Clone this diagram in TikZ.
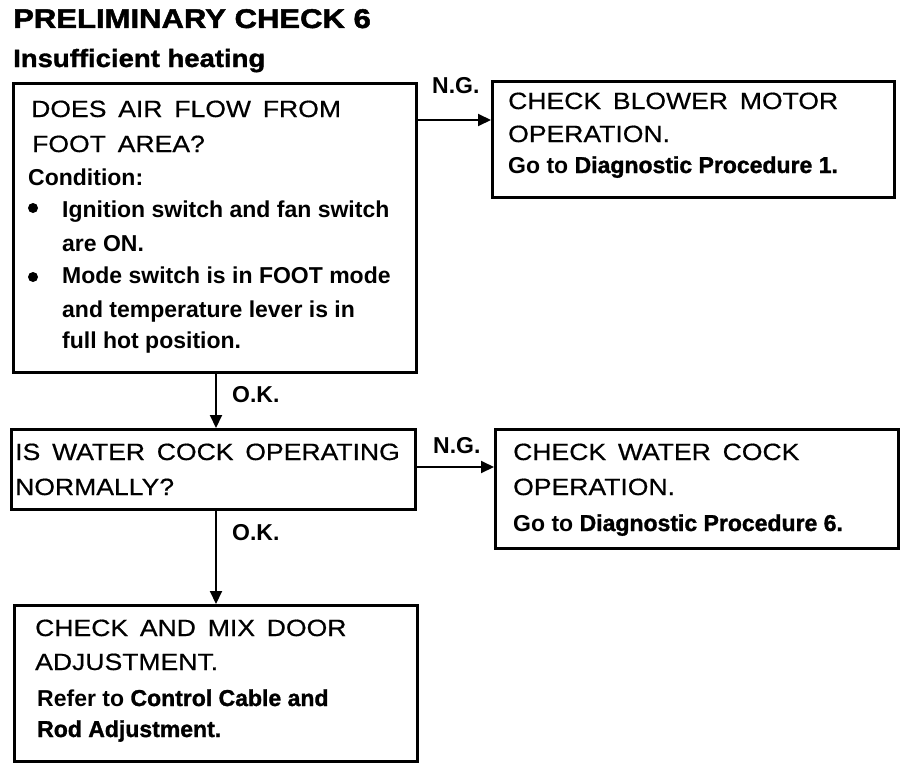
\documentclass[tikz,border=0pt]{standalone}
\usepackage{fontspec}
\setmainfont{Liberation Sans}
\newfontfamily\qfont[FakeStretch=1.13,FakeBold=0.6,WordSpace=1.6]{Liberation Sans}
\newfontfamily\heavyfont[FakeBold=1.3]{Liberation Sans Bold}
\newfontfamily\titlefont[FakeBold=1.8,FakeStretch=1.15]{Liberation Sans Bold}
\newfontfamily\subfont[FakeBold=1.3,FakeStretch=1.1]{Liberation Sans Bold}
\usetikzlibrary{arrows.meta,calc}
\tikzset{
  box/.style={draw, line width=2.6pt, inner sep=0pt, anchor=north west},
  conn/.style={line width=2pt, -{Triangle[length=13pt,width=12pt]}},
  qtext/.style={inner sep=0pt, anchor=base west, font=\qfont\fontsize{23.5}{24}\selectfont},
  btext/.style={inner sep=0pt, anchor=base west, font=\bfseries\fontsize{23}{23}\selectfont},
  lbl/.style={inner sep=0pt, anchor=base west, font=\bfseries\fontsize{23}{23}\selectfont},
  bul/.style={circle, fill, inner sep=0pt, minimum size=10pt}
}
\begin{document}
\begin{tikzpicture}[x=1pt,y=-1pt]
\useasboundingbox (0,0) rectangle (912,768);
% title
\node[inner sep=0pt, anchor=base west, font=\titlefont\fontsize{27}{28}\selectfont] (title) at (13,28) {PRELIMINARY CHECK 6};
\node[inner sep=0pt, anchor=base west, font=\subfont\fontsize{25}{26}\selectfont] (sub) at (13,67) {Insufficient heating};
% boxes
\node[box, minimum width=403pt, minimum height=289pt] (q1) at (12,82) {};
\node[box, minimum width=402pt, minimum height=116pt] (r1) at (491,80) {};
\node[box, minimum width=404pt, minimum height=80pt] (q2) at (10,428) {};
\node[box, minimum width=403pt, minimum height=119pt] (r2) at (494,428) {};
\node[box, minimum width=403pt, minimum height=156pt] (r3) at (13,604) {};
% box 1 text
\node[qtext] (t11) at (31,117) {DOES AIR FLOW FROM};
\node[qtext] (t12) at (32,152) {FOOT AREA?};
\node[btext] (t13) at (28,185) {Condition:};
\node[bul] (b1) at (33,208) {};
\node[btext] (t14) at (62,217) {Ignition switch and fan switch};
\node[btext] (t15) at (62,251) {are ON.};
\node[bul] (b2) at (33,277) {};
\node[btext] (t16) at (62,283) {Mode switch is in FOOT mode};
\node[btext] (t17) at (62,317) {and temperature lever is in};
\node[btext] (t18) at (62,348) {full hot position.};
% box 2 text
\node[qtext] (t21) at (508,109) {CHECK BLOWER MOTOR};
\node[qtext] (t22) at (508,142) {OPERATION.};
\node[btext] (t23) at (508,173) {Go to {\heavyfont Diagnostic Procedure 1.}};
% box 3 text
\node[qtext] (t31) at (15,460) {IS WATER COCK OPERATING};
\node[qtext] (t32) at (15,495) {NORMALLY?};
% box 4 text
\node[qtext] (t41) at (513,460) {CHECK WATER COCK};
\node[qtext] (t42) at (513,495) {OPERATION.};
\node[btext] (t43) at (513,531) {Go to {\heavyfont Diagnostic Procedure 6.}};
% box 5 text
\node[qtext] (t51) at (35,636) {CHECK AND MIX DOOR};
\node[qtext] (t52) at (35,670) {ADJUSTMENT.};
\node[btext] (t53) at (37,706) {Refer to {\heavyfont Control Cable and}};
\node[btext] (t54) at (37,737) {\heavyfont Rod Adjustment.};
% connectors
\draw[conn] ($(q1.north east)+(0,38)$) -- ($(r1.north west)+(0,40)$);
\draw[conn] ($(q1.south west)+(204,0)$) -- ($(q2.north west)+(206,0)$);
\draw[conn] ($(q2.north east)+(0,39)$) -- ($(r2.north west)+(0,39)$);
\draw[conn] ($(q2.south west)+(206,0)$) -- ($(r3.north west)+(203,0)$);
% labels
\node[lbl] (ng1) at (432,93) {N.G.};
\node[lbl] (ng2) at (433,453) {N.G.};
\node[lbl] (ok1) at (232,402) {O.K.};
\node[lbl] (ok2) at (232,540) {O.K.};
\end{tikzpicture}
\end{document}
